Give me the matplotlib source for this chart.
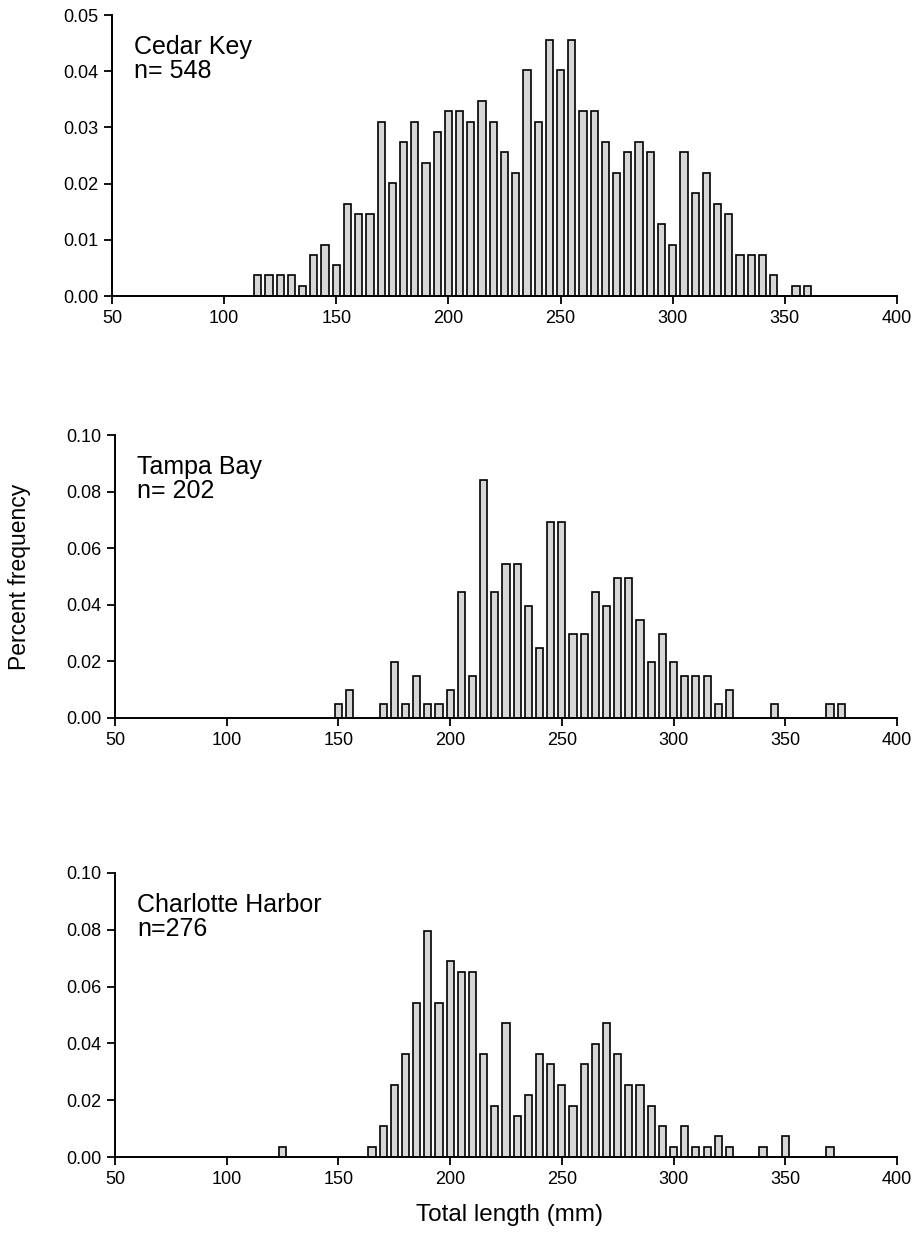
import numpy as np
import matplotlib
matplotlib.use("Agg")
import matplotlib.pyplot as plt
from matplotlib.transforms import offset_copy

plt.rcParams['font.family'] = ['Liberation Sans', 'DejaVu Sans']

# counts per 5 mm length class
cedar_len = [115, 120, 125, 130, 135, 140, 145, 150, 155, 160, 165, 170, 175, 180, 185, 190,
             195, 200, 205, 210, 215, 220, 225, 230, 235, 240, 245, 250, 255, 260, 265, 270,
             275, 280, 285, 290, 295, 300, 305, 310, 315, 320, 325, 330, 335, 340, 345, 355, 360]
cedar_cnt = [2, 2, 2, 2, 1, 4, 5, 3, 9, 8, 8, 17, 11, 15, 17, 13,
             16, 18, 18, 17, 19, 17, 14, 12, 22, 17, 25, 22, 25, 18, 18, 15,
             12, 14, 15, 14, 7, 5, 14, 10, 12, 9, 8, 4, 4, 4, 2, 1, 1]

tampa_len = [150, 155, 170, 175, 180, 185, 190, 195, 200, 205, 210, 215, 220, 225, 230, 235,
             240, 245, 250, 255, 260, 265, 270, 275, 280, 285, 290, 295, 300, 305, 310, 315,
             320, 325, 345, 370, 375]
tampa_cnt = [1, 2, 1, 4, 1, 3, 1, 1, 2, 9, 3, 17, 9, 11, 11, 8,
             5, 14, 14, 6, 6, 9, 8, 10, 10, 7, 4, 6, 4, 3, 3, 3,
             1, 2, 1, 1, 1]

charl_len = [125, 165, 170, 175, 180, 185, 190, 195, 200, 205, 210, 215, 220, 225, 230, 235,
             240, 245, 250, 255, 260, 265, 270, 275, 280, 285, 290, 295, 300, 305, 310, 315,
             320, 325, 340, 350, 370]
charl_cnt = [1, 1, 3, 7, 10, 15, 22, 15, 19, 18, 18, 10, 5, 13, 4, 6,
             10, 9, 7, 5, 9, 11, 13, 10, 7, 7, 5, 3, 1, 3, 1, 1,
             2, 1, 1, 2, 1]

labels = ["Cedar Key\nn= 548", "Tampa Bay\nn= 202", "Charlotte Harbor\nn=276"]
ns = [548, 202, 276]
ymaxes = [0.05, 0.10, 0.10]
ysteps = [0.01, 0.02, 0.02]

W, H = 924, 1241
fig = plt.figure(figsize=(W / 100, H / 100), dpi=100)

# axes boxes in pixels: (left, top, right, bottom)
boxes = [(112, 15, 897, 296), (115, 435, 897, 718), (115, 873, 897, 1157)]
data = [(cedar_len, cedar_cnt), (tampa_len, tampa_cnt), (charl_len, charl_cnt)]

for i, (box, (lens, cnts)) in enumerate(zip(boxes, data)):
    l, t, r, b = box
    ax = fig.add_axes([l / W, 1 - b / H, (r - l) / W, (b - t) / H])
    freq = np.array(cnts) / ns[i]
    ax.bar(lens, freq, width=3.2, color="#d6d6d6", edgecolor="black", linewidth=1.2)
    ax.set_xlim(50, 400)
    ax.set_ylim(0, ymaxes[i])
    ax.set_xticks(np.arange(50, 401, 50))
    ax.set_yticks(np.arange(0, ymaxes[i] + 1e-9, ysteps[i]))
    ax.yaxis.set_major_formatter(matplotlib.ticker.FormatStrFormatter("%.2f"))
    for s in ["top", "right"]:
        ax.spines[s].set_visible(False)
    for s in ["left", "bottom"]:
        ax.spines[s].set_linewidth(1.4)
    ax.tick_params(direction="out", length=6, width=1.3, labelsize=13, pad=4)
    tr = offset_copy(ax.transAxes, fig=fig, x=22, y=-20, units="dots")
    ax.text(0, 1, labels[i], transform=tr, fontsize=18,
            va="top", ha="left", linespacing=1.0)

fig.text(20 / W, 1 - 577 / H, "Percent frequency", rotation=90, fontsize=16.5,
         ha="center", va="center")
fig.text(510 / W, 1 - 1215 / H, "Total length (mm)", fontsize=17.5,
         ha="center", va="center")

fig.savefig("out.png", dpi=100)
